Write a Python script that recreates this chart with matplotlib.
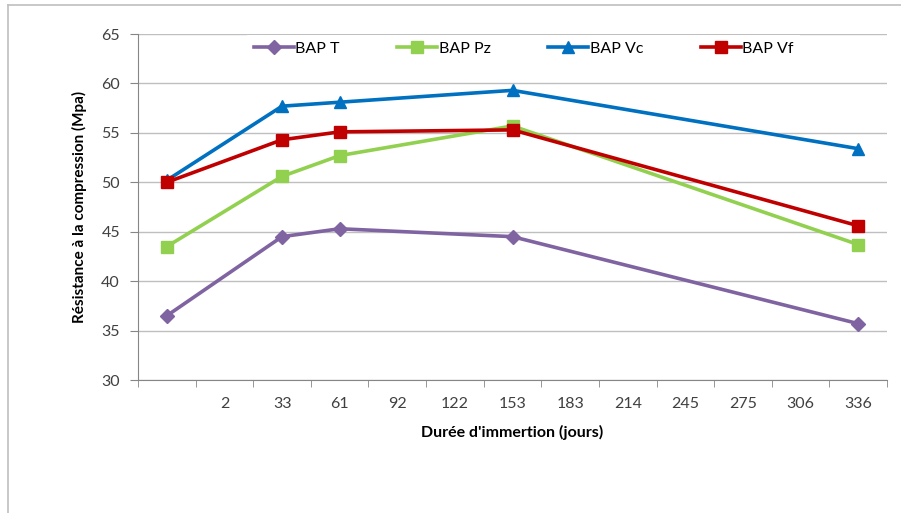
import matplotlib
matplotlib.use('Agg')
import matplotlib.pyplot as plt
from matplotlib.lines import Line2D

plt.rcParams['font.family'] = ['Lato', 'DejaVu Sans']

# category axis of the original spreadsheet chart (first slot has no label)
categories = ['', '2', '33', '61', '92', '122', '153', '183', '214', '245', '275', '306', '336']
measured_at = ['', '33', '61', '153', '336']

bap_t = [36.5, 44.5, 45.3, 44.5, 35.7]
bap_pz = [43.5, 50.6, 52.7, 55.7, 43.7]
bap_vc = [50.2, 57.7, 58.1, 59.3, 53.4]
bap_vf = [50.0, 54.3, 55.1, 55.3, 45.6]

x = [categories.index(c) for c in measured_at]

fig = plt.figure(figsize=(9.01, 5.13), dpi=100)
ax = fig.add_axes([138 / 901, 1 - 380 / 513, (887 - 138) / 901, (380 - 34) / 513])

ax.plot(x, bap_t, color='#8064A2', lw=2.6, marker='D', ms=7.5, label='BAP T')
ax.plot(x, bap_pz, color='#92D050', lw=2.6, marker='s', ms=8, label='BAP Pz')
ax.plot(x, bap_vc, color='#0070C0', lw=2.6, marker='^', ms=9, label='BAP Vc')
ax.plot(x, bap_vf, color='#C00000', lw=2.6, marker='s', ms=8, label='BAP Vf')

ax.set_xlim(-0.5, len(categories) - 0.5)
ax.set_ylim(30, 65)
ax.set_yticks(range(30, 66, 5))
ax.yaxis.grid(True, color='#BFBFBF', lw=1)
ax.set_axisbelow(True)

ax.set_xticks(range(len(categories)))
ax.set_xticklabels(categories)
ax.set_xticks([i - 0.5 for i in range(len(categories) + 1)], minor=True)
ax.tick_params(axis='x', which='major', length=0, pad=12, labelsize=11.5, colors='#404040')
ax.tick_params(axis='x', which='minor', length=5, color='#868686')
ax.tick_params(axis='y', length=6, pad=7, labelsize=11.5, color='#868686', labelcolor='#404040')

for s in ['top', 'right']:
    ax.spines[s].set_visible(False)
for s in ['left', 'bottom']:
    ax.spines[s].set_color('#868686')

ax.set_xlabel("Durée d'immertion (jours)", fontweight='bold', fontsize=11.5, labelpad=10)
ax.set_ylabel('Résistance à la compression (Mpa)', fontweight='bold', fontsize=11, labelpad=10)

leg = ax.legend(loc='upper center', bbox_to_anchor=(0.515, 1.02), ncol=4, frameon=True,
                fancybox=False, edgecolor='none', framealpha=1, fontsize=11.5,
                handlelength=2.5, handletextpad=0.1, columnspacing=3.6)

# outer chart border
fig.add_artist(Line2D([8 / 901, 8 / 901], [0, 1 - 5 / 513], color='#BFBFBF', lw=1.2))
fig.add_artist(Line2D([8 / 901, 1], [1 - 5 / 513, 1 - 5 / 513], color='#BFBFBF', lw=1.2))

fig.savefig('out.png', dpi=100)
